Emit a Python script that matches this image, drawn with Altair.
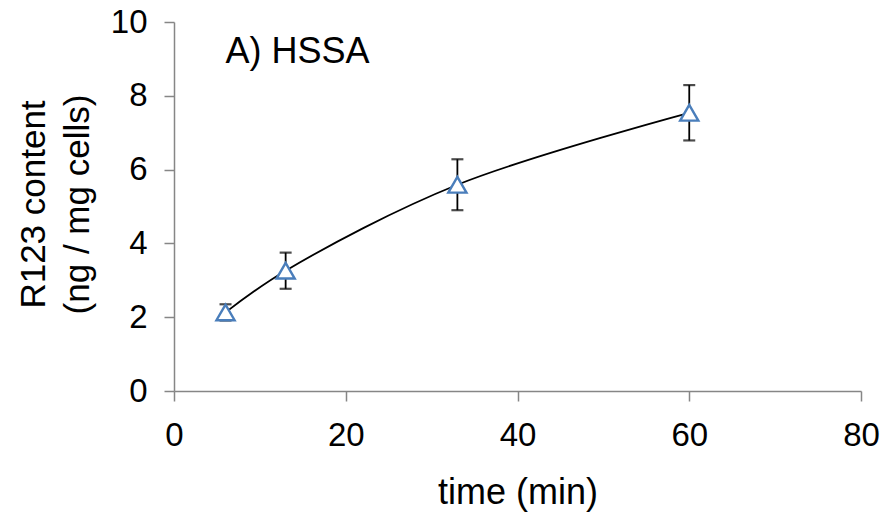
import altair as alt
import pandas as pd

# data
time_min = [6, 13, 33, 60]
r123 = [2.13, 3.26, 5.59, 7.54]
err = [0.22, 0.49, 0.69, 0.75]

label_text = ["A) HSSA"]
label_x = [6]
label_y = [8.9]

df = pd.DataFrame({"t": time_min, "v": r123, "e": err})
df["lo"] = df["v"] - df["e"]
df["hi"] = df["v"] + df["e"]
ann = pd.DataFrame({"t": label_x, "v": label_y, "txt": label_text})

FONT = "Liberation Sans"
x_scale = alt.Scale(domain=[0, 80], nice=False)
y_scale = alt.Scale(domain=[0, 10], nice=False)

x_axis = alt.Axis(
    values=[0, 20, 40, 60, 80], title="time (min)", labelPadding=18,
    labelFlush=False,
    titleY=101, titleBaseline="middle", titleFontSize=36,
)
y_axis = alt.Axis(
    values=[0, 2, 4, 6, 8, 10], title=["R123 content", "(ng / mg cells)"],
    labelPadding=17, labelFlush=False, titleFontSize=35, titleLineHeight=44,
    titleAngle=-90, titleX=-158, titleY=182, titleAlign="center",
    titleBaseline="top",
)

base = alt.Chart(df)

line = base.mark_line(color="black", strokeWidth=1.8, interpolate="catmull-rom").encode(
    x=alt.X("t:Q", scale=x_scale, axis=x_axis),
    y=alt.Y("v:Q", scale=y_scale, axis=y_axis),
)

rules = base.mark_rule(color="black", strokeWidth=1.8).encode(
    x="t:Q", y="lo:Q", y2="hi:Q"
)
cap_lo = base.mark_tick(color="black", orient="horizontal", size=12, thickness=2.2).encode(
    x="t:Q", y="lo:Q"
)
cap_hi = base.mark_tick(color="black", orient="horizontal", size=12, thickness=2.2).encode(
    x="t:Q", y="hi:Q"
)

points = base.mark_point(
    shape="triangle-up", size=330, filled=True, fill="white",
    stroke="#4A7EBB", strokeWidth=2.4, opacity=1,
).encode(x="t:Q", y="v:Q")

text = alt.Chart(ann).mark_text(
    align="left", baseline="alphabetic", fontSize=36, font=FONT, color="black"
).encode(x="t:Q", y="v:Q", text="txt:N")

chart = (
    alt.layer(rules, cap_lo, cap_hi, line, points, text)
    .properties(
        width=687, height=369,
        autosize=alt.AutoSizeParams(type="none"),
        padding={"left": 174, "top": 22, "right": 25, "bottom": 129},
    )
    .configure_view(stroke=None)
    .configure_axis(
        grid=False, domainColor="#868686", tickColor="#868686",
        domainWidth=1.5, tickWidth=1.5, tickSize=10,
        labelFont=FONT, labelFontSize=33, labelColor="black",
        titleFont=FONT, titleColor="black", titleFontWeight="normal",
    )
)

chart.save("out.html", embed_options={"renderer": "svg", "actions": False})
